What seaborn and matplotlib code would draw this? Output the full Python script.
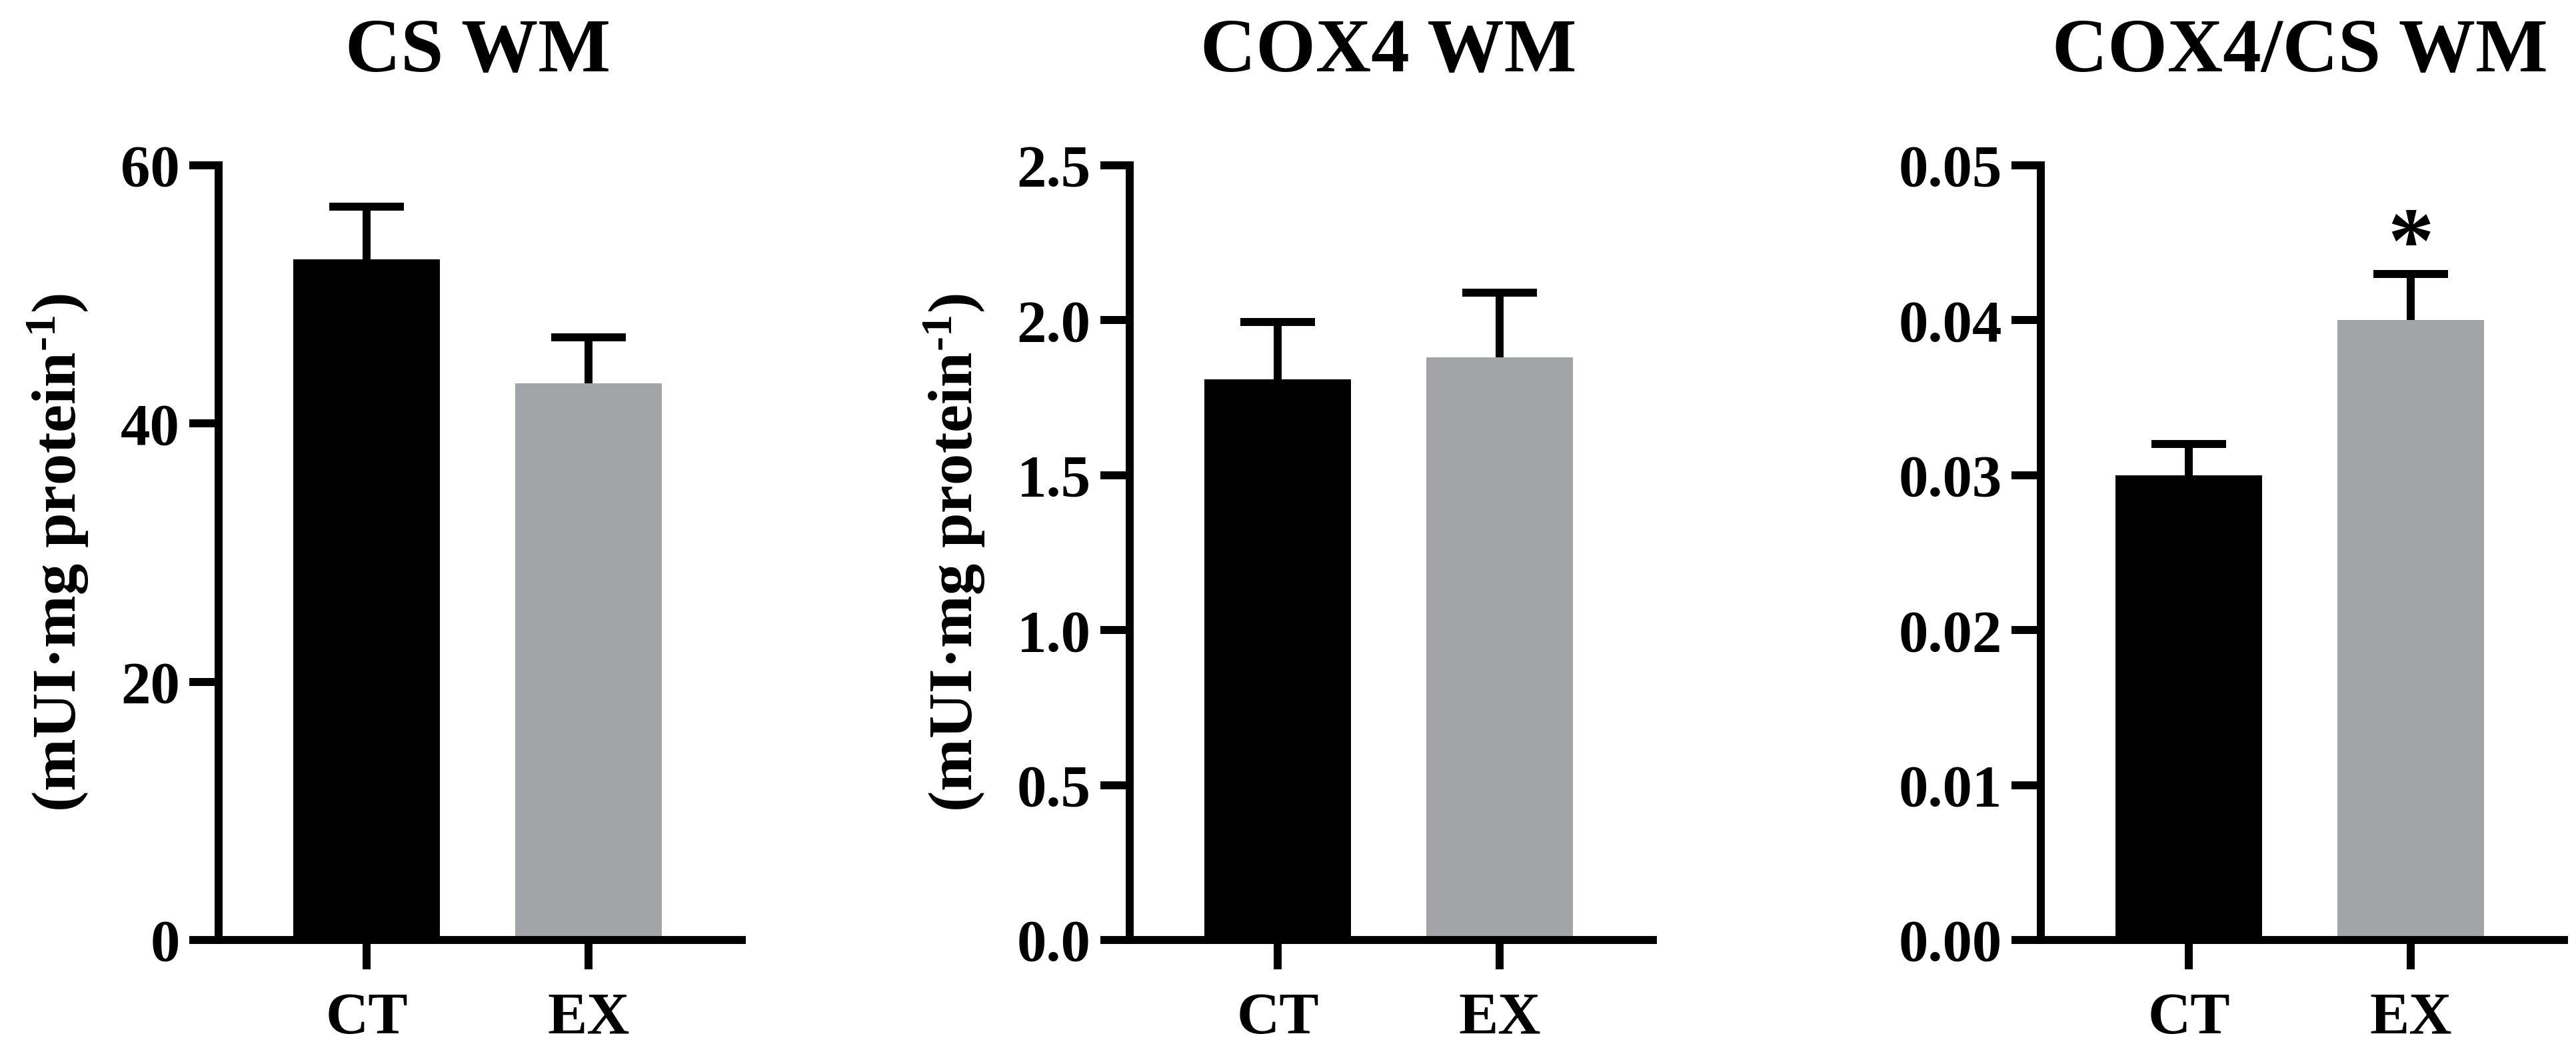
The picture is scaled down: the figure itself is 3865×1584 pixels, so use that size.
import matplotlib
matplotlib.use("Agg")
import matplotlib.pyplot as plt
import matplotlib.transforms as mtransforms
import numpy as np
import pandas as pd
import seaborn as sns

# ---------------- data ----------------
groups = ["CT", "EX"]
titles = ["CS WM", "COX4 WM", "COX4/CS WM"]
cs_mean = [52.7, 43.1]
cs_sem = [4.1, 3.6]
cox4_mean = [1.81, 1.88]
cox4_sem = [0.185, 0.21]
ratio_mean = [0.0300, 0.0400]
ratio_sem = [0.0020, 0.0030]
cs_ticks = [0, 20, 40, 60]
cs_ticklabels = ["0", "20", "40", "60"]
cox4_ticks = [0.0, 0.5, 1.0, 1.5, 2.0, 2.5]
cox4_ticklabels = ["0.0", "0.5", "1.0", "1.5", "2.0", "2.5"]
ratio_ticks = [0.00, 0.01, 0.02, 0.03, 0.04, 0.05]
ratio_ticklabels = ["0.00", "0.01", "0.02", "0.03", "0.04", "0.05"]
ylabel_text = "(mUI·mg protein$^{\\text{-1}}$)"
significance = ["", "*"]  # only on ratio panel

# ---------------- style ----------------
sns.set_theme(style="ticks")
plt.rcParams["font.family"] = ["Liberation Serif", "DejaVu Serif"]
plt.rcParams["font.weight"] = "bold"
plt.rcParams["text.color"] = "black"
plt.rcParams["axes.labelcolor"] = "black"
plt.rcParams["xtick.color"] = "black"
plt.rcParams["ytick.color"] = "black"
plt.rcParams["mathtext.fontset"] = "custom"
plt.rcParams["mathtext.rm"] = "Liberation Serif:bold"
plt.rcParams["mathtext.it"] = "Liberation Serif:bold"
plt.rcParams["mathtext.bf"] = "Liberation Serif:bold"
plt.rcParams["mathtext.sf"] = "Liberation Serif:bold"

colors = ["#000000", "#a3a4a8"]
LW = 8.6
W, H = 3865, 1584
fig = plt.figure(figsize=(W / 100, H / 100), dpi=100)

lefts = [328, 1695, 3062]
ax_w = 785
ax_bottom = 1410
ax_top = 248

panels = [
    (cs_mean, cs_sem, cs_ticks, cs_ticklabels, True, None),
    (cox4_mean, cox4_sem, cox4_ticks, cox4_ticklabels, True, None),
    (ratio_mean, ratio_sem, ratio_ticks, ratio_ticklabels, False, significance),
]

for i, (means, sems, ticks, ticklabels, has_ylabel, sig) in enumerate(panels):
    ax = fig.add_axes([lefts[i] / W, (H - ax_bottom) / H, ax_w / W, (ax_bottom - ax_top) / H])
    df = pd.DataFrame({"group": groups, "value": means})
    sns.barplot(data=df, x="group", y="value", hue="group", palette=colors,
                width=0.66, errorbar=None, saturation=1, legend=False,
                linewidth=0, ax=ax, zorder=2)
    eb = ax.errorbar(range(len(groups)), means,
                     yerr=[np.zeros(len(sems)), sems],
                     fmt="none", ecolor="black", elinewidth=LW, capsize=40,
                     capthick=LW, zorder=1)
    # hide the lower caps (one-sided error bars)
    eb[1][0].set_visible(False)
    ax.set_xlim(-0.667, 1.69)
    ax.set_ylim(ticks[0], ticks[-1])
    ax.set_yticks(ticks)
    ax.set_yticklabels(ticklabels)
    ax.set_xlabel("")
    ax.set_ylabel("")
    sns.despine(ax=ax)
    for s in ["left", "bottom"]:
        ax.spines[s].set_linewidth(LW)
        ax.spines[s].set_color("black")
        ax.spines[s].set_capstyle("projecting")
        ax.spines[s].set_zorder(3)
    ax.tick_params(axis="both", length=32, width=LW, color="black",
                   labelsize=64, labelcolor="black")
    ax.tick_params(axis="y", pad=10)
    ax.tick_params(axis="x", pad=24)
    for lab in ax.get_xticklabels() + ax.get_yticklabels():
        lab.set_fontweight("bold")
    if has_ylabel:
        ax.set_ylabel(ylabel_text, fontsize=68, fontweight="bold", labelpad=32,
                      color="black")
    trans = mtransforms.blended_transform_factory(ax.transData, fig.transFigure)
    ax.text(0.5, 1 - 107 / H, titles[i], transform=trans, ha="center",
            va="baseline", fontsize=83, fontweight="bold", color="black")
    if sig is not None:
        for j, s in enumerate(sig):
            if s:
                ax.annotate(s, xy=(j, means[j] + sems[j]), xytext=(0, 2),
                            textcoords="offset points", ha="center",
                            va="baseline", fontsize=100, fontweight="bold",
                            color="black", annotation_clip=False)

fig.savefig("out.png", dpi=100, facecolor="white")
